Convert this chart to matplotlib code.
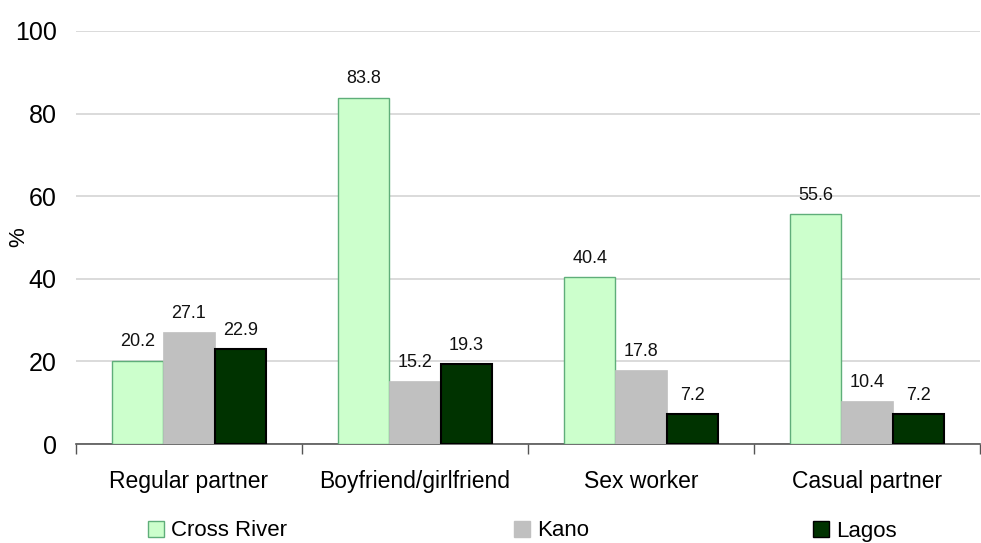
import matplotlib
matplotlib.use("Agg")
import matplotlib.pyplot as plt
import numpy as np
from matplotlib.patches import Patch

categories = ["Regular partner", "Boyfriend/girlfriend", "Sex worker", "Casual partner"]
series_names = ["Cross River", "Kano", "Lagos"]
cross_river = [20.2, 83.8, 40.4, 55.6]
kano = [27.1, 15.2, 17.8, 10.4]
lagos = [22.9, 19.3, 7.2, 7.2]

plt.rcParams['font.family'] = ['Liberation Sans', 'DejaVu Sans']

fig = plt.figure(figsize=(9.81, 5.43), dpi=100)
ax = fig.add_axes([76/981, 99/543, 904/981, 413/543])

x = np.arange(len(categories))
w = 0.227
fills = ["#ccffcc", "#c0c0c0", "#003300"]
edges = ["#5fae7a", "#c0c0c0", "#000000"]
lws = [1.0, 0.5, 1.5]
data = [cross_river, kano, lagos]
handles = []
for i, (vals, fc, ec, lw) in enumerate(zip(data, fills, edges, lws)):
    bars = ax.bar(x + (i - 1) * w, vals, w, color=fc, edgecolor=ec, linewidth=lw, zorder=3)
    for b, v in zip(bars, vals):
        ax.annotate(f"{v:.1f}", (b.get_x() + b.get_width() / 2, v), xytext=(0, 7.5),
                    textcoords="offset points", ha="center", va="bottom", fontsize=13, color="#111111")
    handles.append(Patch(facecolor=fc, edgecolor=ec, linewidth=1.0))

ax.set_xlim(-0.5, len(categories) - 0.5)
ax.set_ylim(0, 100)
ax.set_yticks([0, 20, 40, 60, 80, 100])
ax.tick_params(axis='y', length=0, labelsize=18, pad=14)
ax.yaxis.grid(True, color="#d4d4d4", linewidth=1.2, zorder=0)
ax.set_axisbelow(True)

ax.set_xticks(x)
ax.set_xticklabels(categories)
ax.tick_params(axis='x', which='major', length=0, labelsize=16.5, pad=19)
ax.set_xticks(np.arange(len(categories) + 1) - 0.5, minor=True)
ax.tick_params(axis='x', which='minor', length=7, width=1, color="#555555", direction='out')

for s in ["top", "right", "left"]:
    ax.spines[s].set_visible(False)
ax.spines["bottom"].set_color("#555555")
ax.spines["bottom"].set_linewidth(1.2)

ax.set_ylabel("%", fontsize=16)
ax.yaxis.set_label_coords(-47/904, 0.5)

legend_x = [148/981, 514/981, 813/981]
for h, name, lx in zip(handles, series_names, legend_x):
    fig.legend([h], [name], loc="center left", bbox_to_anchor=(lx, 12/543), frameon=False,
               fontsize=16, handlelength=0.7, handleheight=0.7, handletextpad=0.35,
               borderpad=0, borderaxespad=0)

fig.savefig("out.png", dpi=100)
